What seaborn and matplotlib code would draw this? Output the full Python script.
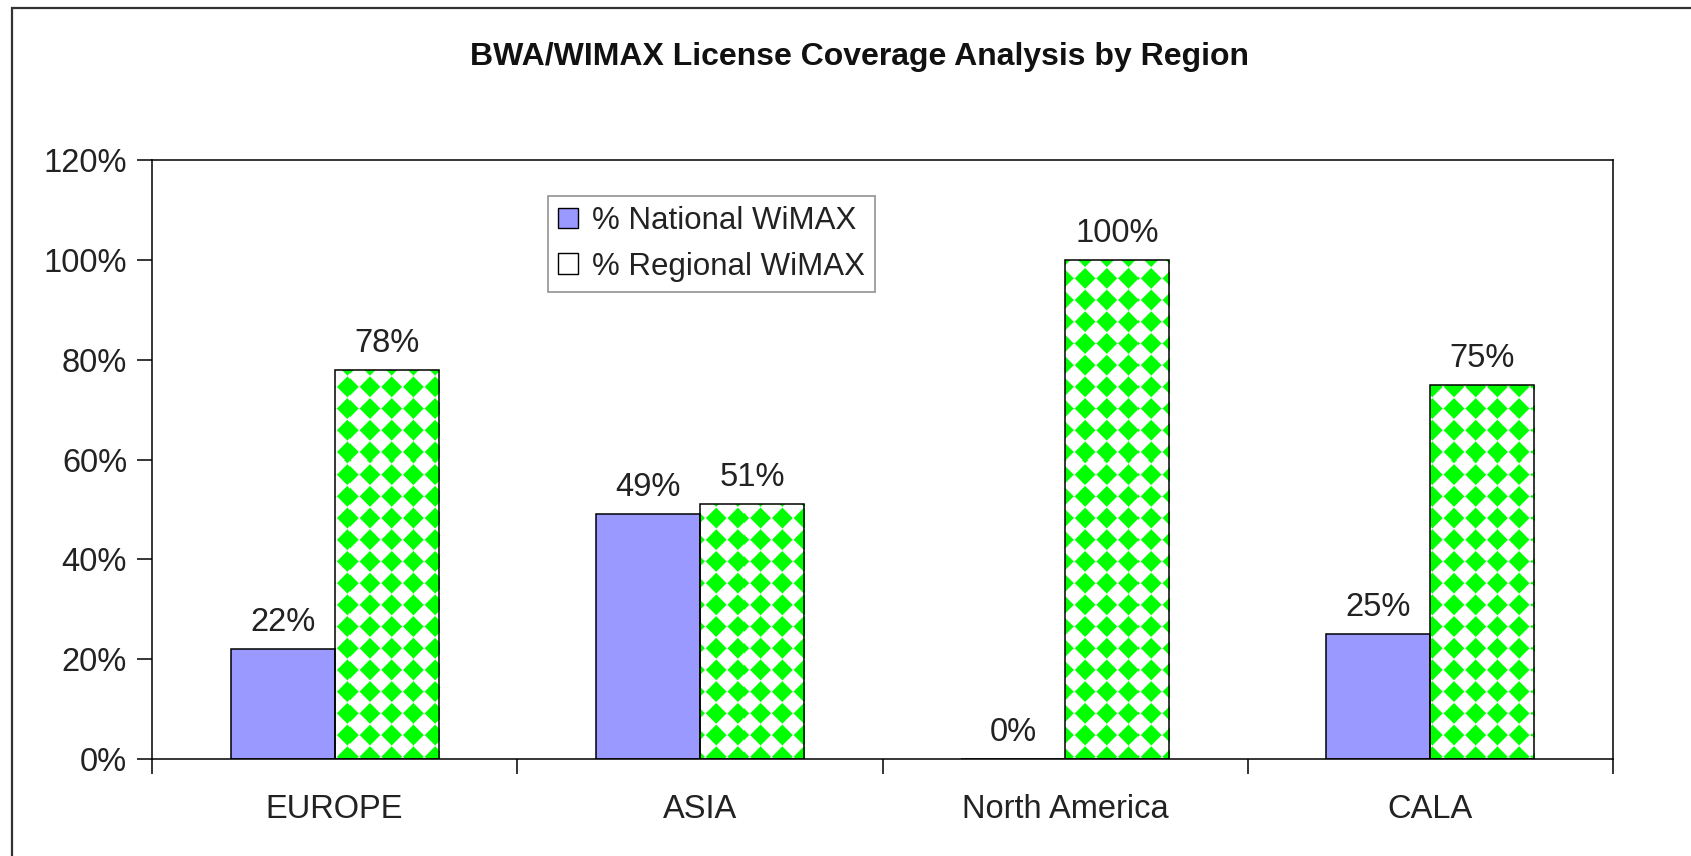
import numpy as np
import pandas as pd
import matplotlib
matplotlib.use('Agg')
import matplotlib.pyplot as plt
import seaborn as sns
from matplotlib.patches import Rectangle, Patch

# chart values (percent)
regions = ['EUROPE', 'ASIA', 'North America', 'CALA']
series_names = ['% National WiMAX', '% Regional WiMAX']
national = [22, 49, 0, 25]
regional = [78, 51, 100, 75]
y_ticks = [0, 20, 40, 60, 80, 100, 120]

blue = '#9999FF'
green = '#00FF00'

df = pd.DataFrame({
    'region': regions * 2,
    'series': [series_names[0]] * 4 + [series_names[1]] * 4,
    'value': national + regional,
})

sns.set_style('white')
plt.rcParams['font.family'] = ['Liberation Sans', 'DejaVu Sans']

W, H = 1691, 856
fig = plt.figure(figsize=(W / 100, H / 100), dpi=100)
ax = fig.add_axes([152 / W, 1 - 759 / H, (1613 - 152) / W, (759 - 160) / H])

sns.barplot(data=df, x='region', y='value', hue='series', palette=[blue, green],
            width=0.57, edgecolor='black', linewidth=1.1, saturation=1,
            legend=False, ax=ax)

ax.set_ylim(0, 120)
ax.set_xlim(-0.5, 3.5)
ax.set_yticks(y_ticks)
ax.set_yticklabels([f'{t}%' for t in y_ticks])
ax.set_xlabel('')
ax.set_ylabel('')
for s in ax.spines.values():
    s.set_visible(True)
    s.set_color('black')
    s.set_linewidth(1.1)

fs = 23.5
# category labels centred, tick marks on the category boundaries
ax.set_xticks(range(len(regions)))
ax.set_xticklabels(regions)
ax.set_xticks(np.arange(-0.5, len(regions)), minor=True)
ax.tick_params(axis='x', which='major', bottom=True, length=0, pad=25, labelsize=fs,
               colors='#222222')
ax.tick_params(axis='x', which='minor', bottom=True, length=11, width=1.1,
               direction='out', color='black')
ax.tick_params(axis='y', left=True, length=11, width=1.1, direction='out', pad=7,
               labelsize=fs, color='black', labelcolor='#222222')

# diamond pattern for the regional bars
bw = int(1613 - 152)
bh = int(759 - 160)
d = 21.7
xs = (np.arange(bw) + 0.5) / d
ys = (np.arange(bh) + 0.5) / d + 0.5
XX, YY = np.meshgrid(xs, ys)
dist = np.abs(XX - np.round(XX)) + np.abs(YY - np.round(YY))
a = np.clip((0.48 - dist) * d / 1.5 + 0.5, 0, 1)[..., None]
pattern = a * np.array([0.0, 1.0, 0.0]) + (1 - a) * np.array([1.0, 1.0, 1.0])

for bar in ax.containers[1]:
    bar.set_facecolor('none')
    im = ax.imshow(pattern, extent=(-0.5, 3.5, 0, 120), aspect='auto',
                   origin='upper', zorder=0.9, interpolation='nearest')
    im.set_clip_path(bar)
ax.set_xlim(-0.5, 3.5)
ax.set_ylim(0, 120)

ax.bar_label(ax.containers[0], labels=[f'{v}%' for v in national], padding=8,
             fontsize=fs, color='#222222')
ax.bar_label(ax.containers[1], labels=[f'{v}%' for v in regional], padding=8,
             fontsize=fs, color='#222222')

handles = [Patch(facecolor=blue, edgecolor='black', linewidth=1),
           Patch(facecolor='white', edgecolor='black', linewidth=1)]
leg = fig.legend(handles, series_names, loc='upper left',
                 bbox_to_anchor=(548 / W, 1 - 196 / H), borderaxespad=0,
                 fontsize=22.5, frameon=True, fancybox=False, handlelength=0.65,
                 handleheight=0.65, handletextpad=0.45, labelspacing=0.5,
                 borderpad=0.32)
leg.get_frame().set_edgecolor('#777777')
leg.get_frame().set_linewidth(1.2)
for t in leg.get_texts():
    t.set_color('#222222')

fig.text(860 / W, 1 - 57 / H, 'BWA/WIMAX License Coverage Analysis by Region',
         ha='center', va='center', fontsize=23, fontweight='bold', color='#111111')

# outer chart frame (cut off at right and bottom)
fig.patches.append(Rectangle((12 / W, -0.2), 1.2, 1.2 - 8 / H, transform=fig.transFigure,
                             fill=False, edgecolor='#333333', linewidth=1.6))

fig.savefig('out.png', dpi=100)
